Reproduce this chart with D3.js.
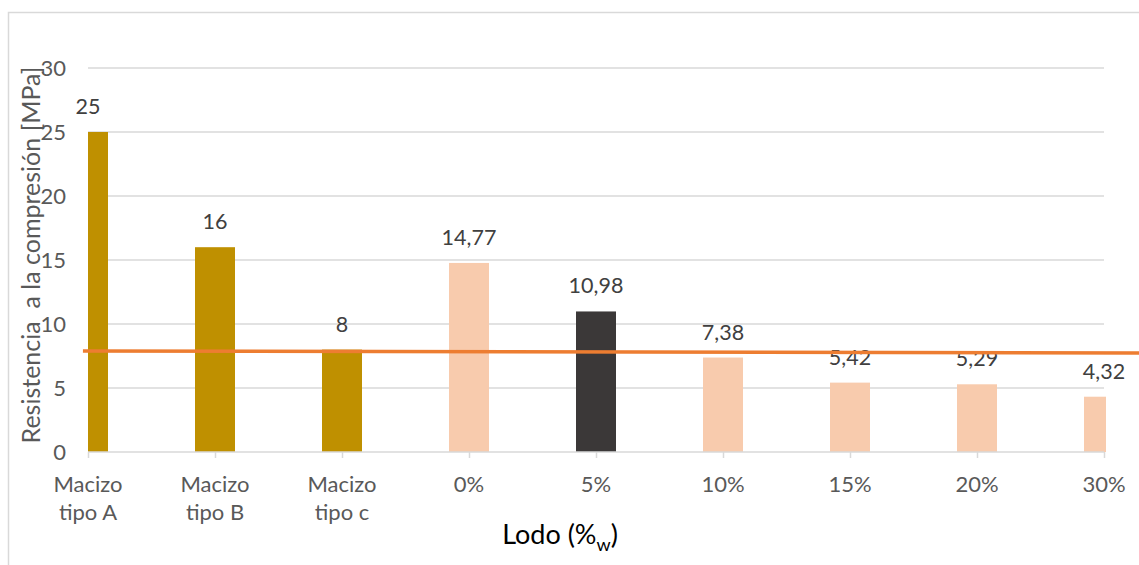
<!DOCTYPE html>
<html>
<head>
<meta charset="utf-8">
<script src="https://cdn.jsdelivr.net/npm/d3@7"></script>
<style>
  html, body { margin: 0; padding: 0; background: #fff; }
  svg { display: block; font-family: Lato, "Open Sans", sans-serif; }
</style>
</head>
<body>
<svg id="chart" width="1139" height="565"></svg>
<script>
// Compressive strength of bricks by sludge content
const categories = ["Macizo\ntipo A", "Macizo\ntipo B", "Macizo\ntipo c", "0%", "5%", "10%", "15%", "20%", "30%"];
const values = [25, 16, 8, 14.77, 10.98, 7.38, 5.42, 5.29, 4.32];
const labels = ["25", "16", "8", "14,77", "10,98", "7,38", "5,42", "5,29", "4,32"];
const groups = ["ref", "ref", "ref", "mix", "best", "mix", "mix", "mix", "mix"];
const yTicks = [0, 5, 10, 15, 20, 25, 30];
// reference line (category position, value)
const refLine = [[-0.04, 7.9], [8.3, 7.73]];

const colors = { ref: "#BF9000", mix: "#F8CBAD", best: "#3B3838" };

const W = 1139, H = 565;
const plot = { left: 88, right: 1104, top: 68, bottom: 452 };

const svg = d3.select("#chart");

svg.append("rect").attr("width", W).attr("height", H).attr("fill", "#fff");
// chart frame
svg.append("rect")
  .attr("x", 8.5).attr("y", 12.5)
  .attr("width", W + 20).attr("height", H + 20)
  .attr("fill", "none").attr("stroke", "#d9d9d9").attr("stroke-width", 1.5);

const x = d3.scalePoint().domain(d3.range(categories.length)).range([plot.left, plot.right]);
const xi = d3.scaleLinear().domain([0, categories.length - 1]).range([plot.left, plot.right]);
const y = d3.scaleLinear().domain([0, 30]).range([plot.bottom, plot.top]);
const barW = 40;

// gridlines
svg.append("g")
  .selectAll("line").data(yTicks.filter(t => t > 0)).join("line")
  .attr("x1", plot.left).attr("x2", plot.right)
  .attr("y1", d => y(d)).attr("y2", d => y(d))
  .attr("stroke", "#d9d9d9").attr("stroke-width", 1.5);

// y axis tick labels
svg.append("g")
  .selectAll("text").data(yTicks).join("text")
  .attr("x", 66).attr("y", d => y(d) + 8)
  .attr("text-anchor", "end")
  .attr("font-size", 22).attr("fill", "#595959")
  .text(d => d);

// bars
svg.append("defs").append("clipPath").attr("id", "plotclip")
  .append("rect").attr("x", plot.left).attr("y", 0)
  .attr("width", plot.right - plot.left + 2).attr("height", H);

svg.append("g").attr("clip-path", "url(#plotclip)")
  .selectAll("rect").data(values).join("rect")
  .attr("x", (d, i) => x(i) - barW / 2)
  .attr("width", barW)
  .attr("y", d => y(d))
  .attr("height", d => y(0) - y(d))
  .attr("fill", (d, i) => colors[groups[i]]);

// x axis line and ticks
const xAxis = d3.axisBottom(x).tickSize(6).tickFormat("");
const gx = svg.append("g").attr("transform", `translate(0,${plot.bottom})`).call(xAxis);
gx.select(".domain").attr("stroke", "#d9d9d9").attr("stroke-width", 1.5).attr("d", `M${plot.left},0H${plot.right}`);
gx.selectAll(".tick line").attr("stroke", "#d9d9d9").attr("stroke-width", 1.5);

// category labels
const catG = svg.append("g")
  .selectAll("text").data(categories).join("text")
  .attr("x", (d, i) => x(i)).attr("y", 492)
  .attr("text-anchor", "middle")
  .attr("font-size", 22).attr("fill", "#595959");
catG.each(function (d) {
  const lines = d.split("\n");
  const t = d3.select(this);
  lines.forEach((ln, k) => {
    t.append("tspan").attr("x", t.attr("x")).attr("dy", k === 0 ? 0 : 28).text(ln);
  });
});

// value labels
svg.append("g")
  .selectAll("text").data(values).join("text")
  .attr("x", (d, i) => x(i)).attr("y", d => y(d) - 18)
  .attr("text-anchor", "middle")
  .attr("font-size", 21.5).attr("fill", "#404040")
  .text((d, i) => labels[i]);

// reference line
svg.append("path")
  .datum(refLine)
  .attr("d", d3.line().x(d => xi(d[0])).y(d => y(d[1])))
  .attr("fill", "none").attr("stroke", "#ED7D31").attr("stroke-width", 3.5);

// axis titles
svg.append("text")
  .attr("transform", `translate(40,${(plot.top + plot.bottom) / 2 - 5}) rotate(-90)`)
  .attr("text-anchor", "middle")
  .attr("font-size", 25).attr("fill", "#595959")
  .style("white-space", "pre")
  .text("Resistencia  a la compresión [MPa]");

const xt = svg.append("text")
  .attr("x", 560).attr("y", 544)
  .attr("text-anchor", "middle")
  .attr("font-size", 27).attr("fill", "#000");
xt.append("tspan").text("Lodo (%");
xt.append("tspan").attr("font-size", 18).attr("dy", 7).text("w");
xt.append("tspan").attr("dy", -7).text(")");
</script>
</body>
</html>
